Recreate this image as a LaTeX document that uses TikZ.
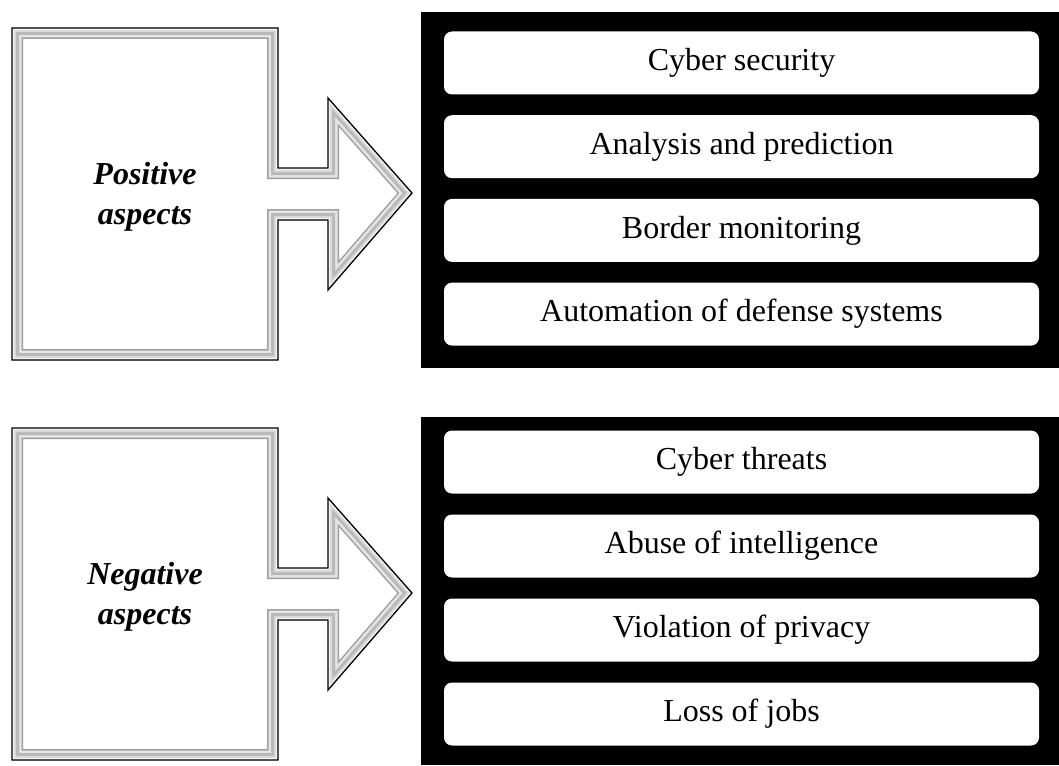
\documentclass[tikz,border=0pt]{standalone}
\usepackage{fontspec}
\setmainfont{Liberation Serif}
\usetikzlibrary{positioning}

\tikzset{
  panel/.style={fill=black},
  item/.style={fill=white, rounded corners=8pt, inner sep=0pt,
    minimum width=595pt, minimum height=63pt,
    font=\fontsize{32}{36}\selectfont},
  aspect/.style={align=center, font=\fontsize{32}{40}\selectfont\bfseries\itshape},
  aspectoutline/.style={insert path={(12,28) -- (278,28) -- (278,168) -- (328,168)
    -- (328,98) -- (412,193) -- (328,290) -- (328,220) -- (278,220)
    -- (278,360) -- (12,360) -- cycle}}
}

% bevelled box with its arrow, moved down by #1
\newcommand{\aspectbox}[3]{%
  \begin{scope}[shift={(0,#1)}]
    \begin{scope}
      \clip[aspectoutline];
      \fill[white] (0,0) rectangle (420,380);
      \foreach \w/\c in {22/gray!75, 19/gray!20, 14/gray!55, 8/gray!30, 4/gray!10}
        \draw[line width=\w pt, \c, line join=miter, aspectoutline];
    \end{scope}
    \draw[line width=1.3pt, line join=miter, aspectoutline];
    \node[aspect] (#2) at (145,197) {#3};
  \end{scope}}

\begin{document}
\begin{tikzpicture}[x=1pt, y=-1pt]
\useasboundingbox (0,0) rectangle (1059,765);

% Left boxes with arrows
\aspectbox{0}{pos}{Positive\\aspects}
\aspectbox{400}{neg}{Negative\\aspects}

% Black panels
\fill[panel] (421,12) rectangle (1059,368);
\fill[panel] (421,417) rectangle (1059,765);

% Items
\foreach \t [count=\i] in {Cyber security, Analysis and prediction,
    Border monitoring, Automation of defense systems}
  \node[item] (positem\i) at (741.5,{63+83.7*(\i-1)}) {\t};

\foreach \t [count=\i] in {Cyber threats, Abuse of intelligence,
    Violation of privacy, Loss of jobs}
  \node[item] (negitem\i) at (741.5,{462+84*(\i-1)}) {\t};

\end{tikzpicture}
\end{document}
